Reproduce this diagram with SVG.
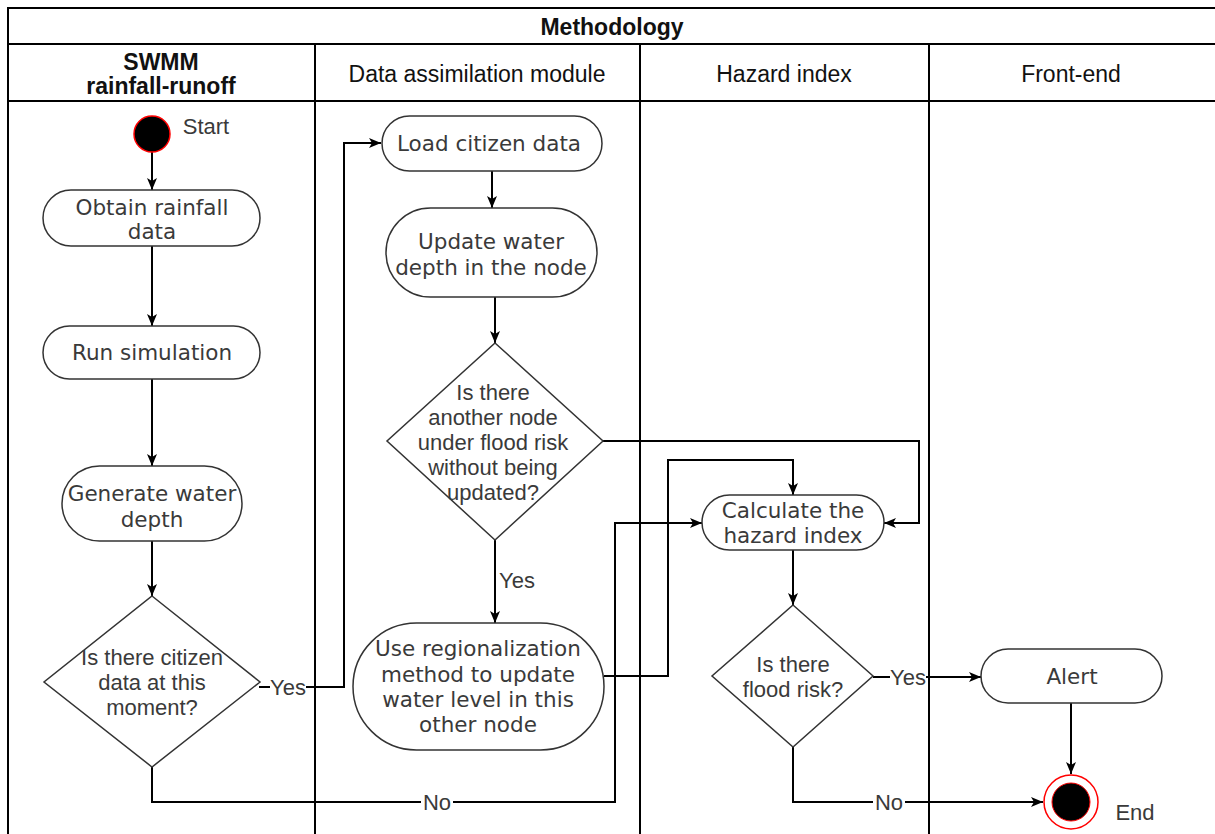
<svg xmlns="http://www.w3.org/2000/svg" width="1215" height="834" viewBox="0 0 1215 834">
<style>
.lane{fill:none;stroke:#000;stroke-width:2}
.node{fill:#fff;stroke:#333;stroke-width:1.5}
.ntext{font-family:"DejaVu Sans",Verdana,sans-serif;font-size:21.5px;fill:#3a3a3a;text-anchor:middle}
.dtext{font-family:"Liberation Sans",Arial,sans-serif;font-size:22px;fill:#3a3a3a;text-anchor:middle}
.htext{font-family:"Liberation Sans",Arial,sans-serif;font-size:23px;fill:#111;text-anchor:middle}
.lbl{font-family:"Liberation Sans",Arial,sans-serif;font-size:22px;fill:#3a3a3a;text-anchor:middle}
.edge{fill:none;stroke:#000;stroke-width:2}
.lblbg{fill:#fff}
</style>
<defs>
<marker id="arr" markerUnits="userSpaceOnUse" markerWidth="14" markerHeight="12" refX="12" refY="5" orient="auto" viewBox="0 0 14 12">
<path d="M0,0 L12,5 L0,10 L3,5 z" fill="#000"/>
</marker>
</defs>
<rect width="1215" height="834" fill="#fff"/>
<g id="pool">
<path class="lane" d="M8,834 V8 H1215"/>
<line class="lane" x1="8" y1="44" x2="1215" y2="44"/>
<line class="lane" x1="8" y1="101" x2="1215" y2="101"/>
<line class="lane" x1="315" y1="44" x2="315" y2="834"/>
<line class="lane" x1="640" y1="44" x2="640" y2="834"/>
<line class="lane" x1="929" y1="44" x2="929" y2="834"/>
<text class="htext" x="612" y="35" font-size="24.5px" font-weight="bold">Methodology</text>
<text class="htext" x="161" y="70" font-weight="bold" font-size="21px">SWMM</text>
<text class="htext" x="161" y="94" font-weight="bold" font-size="21.5px">rainfall-runoff</text>
<text class="htext" x="477" y="82">Data assimilation module</text>
<text class="htext" x="784" y="82">Hazard index</text>
<text class="htext" x="1071" y="82">Front-end</text>
</g>
<g id="edges">
<line class="edge" x1="152" y1="152" x2="152" y2="190" marker-end="url(#arr)"/>
<line class="edge" x1="152" y1="246" x2="152" y2="326" marker-end="url(#arr)"/>
<line class="edge" x1="152" y1="379" x2="152" y2="466" marker-end="url(#arr)"/>
<line class="edge" x1="152" y1="541" x2="152" y2="596" marker-end="url(#arr)"/>
<path class="edge" d="M259,687 H344 V143 H381" marker-end="url(#arr)"/>
<path class="edge" d="M152,767 V802 H615 V523 H702" marker-end="url(#arr)"/>
<line class="edge" x1="492" y1="171" x2="492" y2="208" marker-end="url(#arr)"/>
<line class="edge" x1="495" y1="297" x2="495" y2="343" marker-end="url(#arr)"/>
<path class="edge" d="M603,441 H919 V523 H884" marker-end="url(#arr)"/>
<line class="edge" x1="495" y1="540" x2="495" y2="623" marker-end="url(#arr)"/>
<path class="edge" d="M604,676 H668 V460 H793 V495" marker-end="url(#arr)"/>
<line class="edge" x1="793" y1="550" x2="793" y2="605" marker-end="url(#arr)"/>
<line class="edge" x1="873" y1="677" x2="981" y2="677" marker-end="url(#arr)"/>
<path class="edge" d="M793,747 V802 H1043" marker-end="url(#arr)"/>
<line class="edge" x1="1071" y1="703" x2="1071" y2="774" marker-end="url(#arr)"/>
<rect class="lblbg" x="270" y="676" width="36" height="22"/>
<text class="lbl" x="288" y="695">Yes</text>
<rect class="lblbg" x="421" y="791" width="32" height="22"/>
<text class="lbl" x="437" y="810">No</text>
<rect class="lblbg" x="499" y="569" width="36" height="22"/>
<text class="lbl" x="517" y="588">Yes</text>
<rect class="lblbg" x="890" y="666" width="36" height="22"/>
<text class="lbl" x="908" y="685">Yes</text>
<rect class="lblbg" x="873" y="791" width="32" height="22"/>
<text class="lbl" x="889" y="810">No</text>
</g>
<g id="start">
<circle cx="152" cy="134" r="18" fill="#000" stroke="#f00" stroke-width="1.5"/>
<text class="lbl" x="206" y="134">Start</text>
</g>
<g id="obtain">
<rect class="node" x="43" y="190" width="217" height="56" rx="28"/>
<text class="ntext" x="152" y="215">Obtain rainfall</text>
<text class="ntext" x="152" y="239">data</text>
</g>
<g id="run">
<rect class="node" x="43" y="326" width="217" height="53" rx="26.5"/>
<text class="ntext" x="152" y="360">Run simulation</text>
</g>
<g id="generate">
<rect class="node" x="62" y="466" width="180" height="75" rx="37.5"/>
<text class="ntext" x="152" y="501">Generate water</text>
<text class="ntext" x="152" y="527">depth</text>
</g>
<g id="decision1">
<polygon class="node" points="152,596 260,682 152,767 44,682"/>
<text class="dtext" x="152" y="665">Is there citizen</text>
<text class="dtext" x="152" y="690">data at this</text>
<text class="dtext" x="152" y="715">moment?</text>
</g>
<g id="load">
<rect class="node" x="382" y="116" width="220" height="55" rx="27.5"/>
<text class="ntext" x="489" y="151">Load citizen data</text>
</g>
<g id="update">
<rect class="node" x="386" y="208" width="211" height="89" rx="44.5"/>
<text class="ntext" x="491" y="249">Update water</text>
<text class="ntext" x="491" y="275">depth in the node</text>
</g>
<g id="decision2">
<polygon class="node" points="495,343 603,441 495,540 387,441"/>
<text class="dtext" x="493" y="400">Is there</text>
<text class="dtext" x="493" y="425">another node</text>
<text class="dtext" x="493" y="450">under flood risk</text>
<text class="dtext" x="493" y="475">without being</text>
<text class="dtext" x="493" y="500">updated?</text>
</g>
<g id="regionalize">
<rect class="node" x="353" y="623" width="251" height="127" rx="63.5"/>
<text class="ntext" x="478" y="656">Use regionalization</text>
<text class="ntext" x="478" y="682">method to update</text>
<text class="ntext" x="478" y="707">water level in this</text>
<text class="ntext" x="478" y="732">other node</text>
</g>
<g id="hazard">
<rect class="node" x="702" y="495" width="182" height="55" rx="27.5"/>
<text class="ntext" x="793" y="518">Calculate the</text>
<text class="ntext" x="793" y="543">hazard index</text>
</g>
<g id="decision3">
<polygon class="node" points="793,605 873,676 793,747 712,676"/>
<text class="dtext" x="793" y="672">Is there</text>
<text class="dtext" x="793" y="697">flood risk?</text>
</g>
<g id="alert">
<rect class="node" x="981" y="649" width="181" height="54" rx="27"/>
<text class="ntext" x="1072" y="684">Alert</text>
</g>
<g id="end">
<circle cx="1071" cy="802" r="27" fill="#fff" stroke="#f00" stroke-width="1.5"/>
<circle cx="1071" cy="802" r="19" fill="#000" stroke="#f00" stroke-width="1"/>
<text class="lbl" x="1135" y="820">End</text>
</g>
</svg>
